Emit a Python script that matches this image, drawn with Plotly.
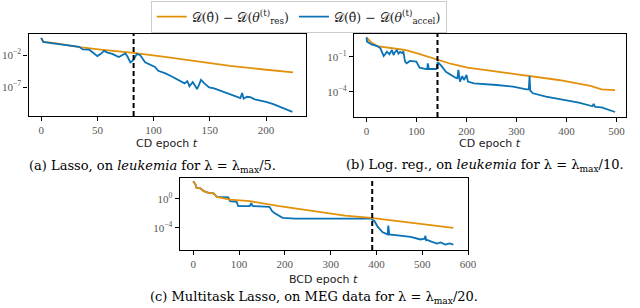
import plotly.graph_objects as go

# ---------------- data (log10 of the dual gap) ----------------
# (a) Lasso, leukemia
a_res_t = [0, 2, 10.6, 22, 34, 51, 82, 110, 139, 168, 198, 224]
a_res_log = [0.7, 0.08, -0.07, -0.45, -0.75, -1.1, -1.64, -2.26, -2.94, -3.67, -4.24, -4.7]
a_acc_t = [0, 1.8, 10.6, 22.2, 33.9, 36.9, 42.7, 46, 50, 53, 55.9, 59, 63.2, 69, 72, 74.9, 77, 79.3,
           80.5, 82.2, 85.1, 88.1, 92.4, 97, 101.2, 104.1, 110, 115.8, 121, 127.5, 129.9, 131.9, 134.8,
           138.6, 140.5, 142.1, 145.1, 147, 149.4, 153.8, 160, 168.4, 173, 177.2, 178.7, 180.1, 183,
           186, 190, 194.7, 200, 206.4, 210, 215.2, 219, 223.4]
a_acc_log = [0.7, 0.08, -0.17, -0.44, -0.7, -1.1, -1.15, -1.6, -2.15, -1.8, -1.33, -1.6, -1.8, -2.3, -2.0,
             -1.75, -2.3, -3.15, -3.0, -2.7, -1.8, -2.0, -3.1, -3.5, -3.85, -4.45, -4.8, -5.3, -5.8, -6.4,
             -6.05, -6.85, -6.2, -7.3, -6.6, -5.85, -6.4, -6.7, -7.05, -7.2, -7.6, -8.25, -8.5, -8.7,
             -7.9, -8.8, -8.5, -8.55, -8.9, -9.05, -9.3, -9.65, -9.9, -10.25, -10.55, -10.85]

# (b) Logistic regression, leukemia
b_res_t = [0, 10, 21.4, 50, 77, 100, 142, 170, 202, 254, 318, 384, 448, 470, 497]
b_res_log = [0.66, 0.2, -0.09, -0.27, -0.43, -0.7, -1.23, -1.63, -1.94, -2.23, -2.57, -3.0, -3.51, -3.8, -3.86]
b_acc_t = [0, 1.3, 10, 21.4, 27.9, 34.4, 38, 41, 46, 50.9, 54.1, 57, 60.7, 64, 67.3, 71, 73.8, 77.1, 80.4,
           86.9, 99.7, 106.3, 119.4, 121.5, 122.7, 124.7, 139.1, 140.5, 142.4, 149, 158.8, 168.6, 178,
           181.8, 183.7, 187, 191.6, 194.9, 200.1, 202.8, 214.6, 260.5, 293.3, 319.6, 324.5, 326.1,
           327.4, 332.7, 358.9, 424.5, 450.8, 452, 454.1, 457.3, 470, 477, 480.3, 497]
b_acc_log = [0.66, 0.29, 0.05, -0.09, -0.29, -0.94, -0.75, -0.57, -0.8, -0.43, -0.86, -0.6, -0.45, -0.75,
             -0.6, -0.7, -0.55, -1.43, -1.57, -1.37, -1.42, -1.94, -2.06, -2.06, -1.57, -2.06, -2.06,
             -2.0, -1.46, -1.75, -2.29, -2.57, -2.8, -2.86, -2.14, -3.14, -2.66, -3.0, -2.57, -3.14,
             -3.29, -3.43, -3.57, -3.8, -3.8, -2.66, -3.9, -4.14, -4.43, -4.94, -5.23, -5.25, -5.05,
             -5.3, -5.35, -5.45, -5.5, -5.74]

# (c) Multitask Lasso, MEG
c_res_t = [0, 4.9, 7.2, 15.7, 23, 33.7, 44.5, 51.6, 80.3, 123.3, 188, 259.5, 331.2, 388.5, 474.6, 567.7]
c_res_log = [2.44, 1.98, 1.52, 1.45, 1.06, 0.83, 0.75, 0.28, -0.09, -0.32, -1.0, -1.7, -2.3, -2.62, -3.3, -4.0]
c_acc_t = [0, 4.9, 7.2, 15.7, 23, 33.7, 44.5, 51.6, 76.7, 80.3, 94.6, 98.2, 123.3, 125, 126.9, 128.5,
           130.5, 166.4, 172.2, 177.2, 187.9, 195, 223.7, 331.2, 388.5, 395.7, 402.9, 413.6, 424.4,
           425.8, 428, 474.6, 496, 505, 506.8, 508.5, 510.4, 520, 531.9, 540, 550, 560, 567.7]
c_acc_log = [2.44, 1.98, 1.52, 1.45, 1.06, 0.83, 0.75, 0.28, 0.2, -0.32, -0.4, -1.0, -1.0, -0.6, -0.55,
             -0.9, -1.0, -1.1, -1.7, -1.95, -2.39, -2.62, -2.71, -2.71, -2.71, -3.08, -3.86, -4.6, -4.9,
             -3.68, -4.9, -5.24, -5.6, -5.5, -5.1, -5.7, -5.65, -5.9, -6.16, -6.0, -6.3, -6.15, -6.3]

switch_epochs = [82.2, 142, 390.7]

x_labels = ["CD epoch <i>t</i>", "CD epoch <i>t</i>", "BCD epoch <i>t</i>"]
captions = [
    "(a) Lasso, on <i>leukemia</i> for λ = λ<sub>max</sub>/5.",
    "(b) Log. reg., on <i>leukemia</i> for λ = λ<sub>max</sub>/10.",
    "(c) Multitask Lasso, on MEG data for λ = λ<sub>max</sub>/20.",
]
legend_res = "𝒟(θ̂) − 𝒟(<i>θ</i><sup>(t)</sup><sub>res</sub>)"
legend_acc = "𝒟(θ̂) − 𝒟(<i>θ</i><sup>(t)</sup><sub>accel</sub>)"

x_ticks = [[0, 50, 100, 150, 200], [0, 100, 200, 300, 400, 500], [0, 100, 200, 300, 400, 500, 600]]
y_tick_exps = [[-2, -7], [-1, -4], [0, -4]]

# ---------------- styling ----------------
ORANGE = "#E3900A"
BLUE = "#0A72B5"
W, H = 640, 308

def px_x(p):
    return p / W

def px_y(p):
    return 1 - p / H

fig = go.Figure()

panels = [
    (a_res_t, a_res_log, a_acc_t, a_acc_log, False),
    (b_res_t, b_res_log, b_acc_t, b_acc_log, False),
    (c_res_t, c_res_log, c_acc_t, c_acc_log, True),
]
for i, (rt, rl, at, al, orange_top) in enumerate(panels):
    xa = "x" if i == 0 else f"x{i+1}"
    ya = "y" if i == 0 else f"y{i+1}"
    tr_res = go.Scatter(x=rt, y=[10 ** v for v in rl], mode="lines", line=dict(color=ORANGE, width=1.8),
                        name=legend_res, showlegend=(i == 0), xaxis=xa, yaxis=ya)
    tr_acc = go.Scatter(x=at, y=[10 ** v for v in al], mode="lines", line=dict(color=BLUE, width=1.8),
                        name=legend_acc, showlegend=(i == 0), xaxis=xa, yaxis=ya)
    if orange_top:
        fig.add_trace(tr_acc)
        fig.add_trace(tr_res)
    else:
        fig.add_trace(tr_res)
        fig.add_trace(tr_acc)
    fig.add_shape(type="line", xref=xa, yref=f"{ya} domain", x0=switch_epochs[i], x1=switch_epochs[i],
                  y0=0, y1=1, line=dict(color="black", width=2, dash="5px,3px"))

# axes geometry (pixels)
boxes = [
    (29, 310, 34, 116, [-11.2, 235.2], [-11.5, 1.3]),
    (359, 635, 34, 117, [-25, 519], [-6.17, 0.94]),
    (182.3, 475, 177.5, 250, [-29.5, 600.5], [-7.05, 2.95]),
]
axis_common = dict(showline=True, mirror=True, linecolor="black", linewidth=1.4, ticks="outside",
                   ticklen=4, tickwidth=1.2, tickcolor="black", showgrid=False, zeroline=False,
                   tickfont=dict(family="Liberation Serif", size=11, color="#555555"))
layout = {}
for i, (x0, x1, y0, y1, xr, yr) in enumerate(boxes):
    xk = "xaxis" if i == 0 else f"xaxis{i+1}"
    yk = "yaxis" if i == 0 else f"yaxis{i+1}"
    ya = "y" if i == 0 else f"y{i+1}"
    xa = "x" if i == 0 else f"x{i+1}"
    layout[xk] = dict(domain=[px_x(x0), px_x(x1)], range=xr, anchor=ya,
                      tickvals=x_ticks[i], ticktext=[str(v) for v in x_ticks[i]], **axis_common)
    layout[yk] = dict(domain=[px_y(y1), px_y(y0)], range=yr, type="log", anchor=xa,
                      tickvals=[10 ** e for e in y_tick_exps[i]],
                      ticktext=[f"10<sup>{'−' if e < 0 else ''}{abs(e)}</sup>" for e in y_tick_exps[i]],
                      **axis_common)

fig.update_layout(**layout)

annotations = []
xlabel_pos = [(169.5, 143), (497, 143), (328.6, 279)]
caption_pos = [(155, 166), (492, 165), (318, 297)]
for i in range(3):
    annotations.append(dict(text=x_labels[i], x=px_x(xlabel_pos[i][0]), y=px_y(xlabel_pos[i][1]),
                            xref="paper", yref="paper", showarrow=False, xanchor="center", yanchor="middle",
                            font=dict(family="DejaVu Sans", size=11, color="#222222")))
    annotations.append(dict(text=captions[i], x=px_x(caption_pos[i][0]), y=px_y(caption_pos[i][1]),
                            xref="paper", yref="paper", showarrow=False, xanchor="center", yanchor="middle",
                            font=dict(family="DejaVu Serif", size=13, color="black")))

fig.update_layout(
    width=W, height=H, margin=dict(l=0, r=0, t=0, b=0),
    paper_bgcolor="white", plot_bgcolor="white",
    annotations=annotations,
    legend=dict(orientation="h", x=px_x(303), y=px_y(1), xanchor="center", yanchor="top",
                bordercolor="#cccccc", borderwidth=1, bgcolor="white",
                font=dict(family="DejaVu Serif", size=12.5, color="#222222")),
)

fig.write_html("out.html", config={"displayModeBar": False},
               post_script="document.body.style.margin='0';")
